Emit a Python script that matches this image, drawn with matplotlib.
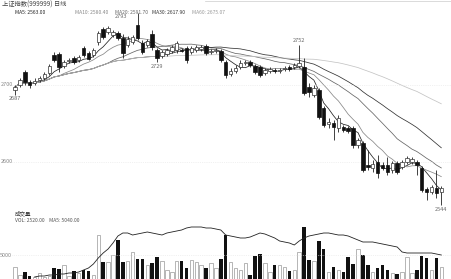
import numpy as np
import pandas as pd
import matplotlib
matplotlib.use('Agg')
import matplotlib.pyplot as plt

plt.rcParams['font.family'] = ['Noto Sans CJK SC', 'DejaVu Sans']

# daily candles
opens = [2693, 2700, 2716, 2703, 2702, 2706, 2709, 2715, 2739, 2740,
         2724, 2731, 2735, 2732, 2748, 2741, 2739, 2755, 2772, 2768,
         2765, 2767, 2761, 2752, 2755, 2778, 2754, 2752, 2766, 2745,
         2737, 2740, 2744, 2745, 2745, 2748, 2742, 2745, 2746, 2750,
         2742, 2744, 2744, 2729, 2714, 2718, 2723, 2728, 2729, 2724,
         2723, 2715, 2718, 2719, 2718, 2720, 2723, 2723, 2724, 2723,
         2697, 2687, 2693, 2670, 2649, 2650, 2644, 2645, 2644, 2644,
         2622, 2624, 2596, 2592, 2599, 2596, 2596, 2589, 2598, 2593,
         2599, 2599, 2599, 2592, 2564, 2560, 2566, 2560]
closes = [2697, 2706, 2703, 2700, 2705, 2709, 2714, 2724, 2732, 2723,
          2729, 2732, 2729, 2736, 2739, 2733, 2745, 2767, 2762, 2774,
          2768, 2761, 2741, 2759, 2762, 2761, 2742, 2757, 2749, 2735,
          2742, 2745, 2749, 2754, 2744, 2732, 2748, 2749, 2749, 2741,
          2744, 2745, 2732, 2713, 2718, 2722, 2728, 2729, 2726, 2716,
          2713, 2719, 2720, 2718, 2719, 2722, 2720, 2726, 2728, 2689,
          2690, 2696, 2658, 2648, 2651, 2645, 2657, 2641, 2640, 2622,
          2628, 2589, 2593, 2597, 2585, 2592, 2586, 2598, 2586, 2599,
          2605, 2603, 2596, 2563, 2560, 2567, 2559, 2566]
highs = [2700, 2709, 2719, 2706, 2709, 2711, 2716, 2727, 2742, 2742,
         2732, 2735, 2737, 2739, 2750, 2744, 2748, 2770, 2775, 2776,
         2771, 2770, 2766, 2763, 2765, 2793, 2758, 2759, 2771, 2748,
         2745, 2748, 2752, 2757, 2748, 2750, 2750, 2752, 2752, 2753,
         2746, 2748, 2746, 2732, 2722, 2726, 2732, 2732, 2732, 2727,
         2726, 2722, 2723, 2722, 2722, 2724, 2726, 2728, 2752, 2735,
         2702, 2700, 2696, 2672, 2657, 2654, 2661, 2648, 2646, 2646,
         2631, 2627, 2615, 2602, 2609, 2599, 2606, 2601, 2601, 2602,
         2607, 2606, 2602, 2594, 2567, 2570, 2589, 2568]
lows = [2687, 2697, 2700, 2696, 2700, 2703, 2706, 2713, 2729, 2716,
        2722, 2728, 2727, 2729, 2736, 2732, 2736, 2752, 2759, 2766,
        2762, 2758, 2735, 2749, 2753, 2758, 2740, 2749, 2745, 2729,
        2735, 2737, 2741, 2741, 2742, 2728, 2740, 2742, 2744, 2739,
        2740, 2741, 2729, 2709, 2711, 2715, 2720, 2726, 2723, 2714,
        2710, 2713, 2715, 2715, 2715, 2718, 2718, 2720, 2722, 2687,
        2684, 2684, 2655, 2645, 2644, 2628, 2638, 2638, 2637, 2618,
        2618, 2586, 2589, 2586, 2579, 2589, 2583, 2585, 2584, 2590,
        2597, 2597, 2583, 2560, 2550, 2558, 2553, 2544]
volumes = [2520, 840, 1470, 630, 420, 1260, 420, 630, 2310, 2100,
           2940, 630, 1680, 1260, 1890, 1680, 840, 9240, 3570, 3570,
           5040, 8190, 3570, 3780, 5670, 4200, 4200, 2940, 3360, 4620,
           3780, 1890, 1470, 3780, 3780, 2310, 3990, 3570, 2940, 2310,
           3360, 2310, 4200, 9240, 3570, 2310, 1890, 3360, 840, 4830,
           5250, 3360, 1470, 2940, 2940, 2520, 1680, 1890, 5670, 10920,
           3990, 3780, 7980, 6300, 1470, 2520, 1890, 1470, 4620, 3150,
           6300, 5040, 2940, 1470, 2310, 2940, 1890, 1260, 1050, 1470,
           4620, 1260, 1890, 4830, 4410, 1890, 4410, 2520]
vol_line = [np.nan, np.nan, np.nan, np.nan, 420, 630, 630, 840, 840, 1050,
            1050, 1260, 1260, 1470, 1890, 2310, 3150, 4410, 5460, 6300,
            7560, 9030, 9660, 9660, 9240, 9450, 9660, 9870, 9660, 9450,
            9240, 9660, 9870, 10080, 10290, 10710, 10920, 10920, 10920, 10710,
            10710, 10500, 10290, 9240, 9030, 8820, 8610, 8610, 8820, 9240,
            9660, 9450, 9030, 8610, 7980, 7770, 7560, 7140, 7980, 8610,
            9030, 9240, 9450, 9660, 9660, 9450, 9240, 9240, 9030, 8610,
            8190, 7770, 7770, 7770, 7560, 7350, 7140, 6930, 6720, 5670,
            5460, 5460, 5460, 5460, 5460, 5460, 5250, 5040]

ma_periods = [5, 10, 20, 30, 60]
ma_colors = ['#222222', '#888888', '#666666', '#333333', '#c4c4c4']

df = pd.DataFrame({'open': opens, 'close': closes, 'high': highs,
                   'low': lows, 'vol': volumes})
for n in ma_periods:
    df['ma%d' % n] = df['close'].rolling(n, min_periods=1).mean()
x = np.arange(len(df))
up = df['close'] >= df['open']

W, H = 451, 279
fig = plt.figure(figsize=(W / 100, H / 100), dpi=100)
ax = fig.add_axes([0, 1 - 215 / H, 1, 215 / H])
vax = fig.add_axes([0, 0, 1, 74 / H])
for a in (ax, vax):
    a.set_xlim(-15 / 4.9, (W - 15) / 4.9)
    a.set_axis_off()
    a.patch.set_alpha(0)
ax.set_ylim(2530.5, 2810)
vax.set_ylim(0, 15540)

# faint grid lines with their labels
for lv in [2700, 2600]:
    ax.axhline(lv, xmin=12 / W, color='#e4e4e4', lw=0.5, ls=':')
    ax.text(-3.0, lv, str(lv), fontsize=4, color='#888888', va='center')
vax.axhline(5000, xmin=12 / W, color='#e4e4e4', lw=0.5, ls=':')
vax.text(-3.0, 5000, '5000', fontsize=4, color='#888888', va='center')

# moving averages under the candles
for n, col in zip(ma_periods, ma_colors):
    ax.plot(x, df['ma%d' % n], color=col, lw=0.55, zorder=1)

# candles
ax.vlines(x, df['low'], df['high'], color='#222222', lw=0.6, zorder=2)
body = (df['close'] - df['open']).abs().clip(lower=0.8)
bottom = df[['open', 'close']].min(axis=1)
ax.bar(x[~up], body[~up], bottom=bottom[~up], width=0.7,
       color='#111111', edgecolor='#111111', lw=0.5, zorder=3)
ax.bar(x[up], body[up], bottom=bottom[up], width=0.7,
       color='white', edgecolor='#333333', lw=0.5, zorder=3)

# extreme labels
lab = dict(fontsize=4, color='#666666')
i = int(df['high'].idxmax())
ax.text(i - 2, df['high'][i] - 4, '%d' % df['high'][i], ha='right', va='center', **lab)
ax.text(29, df['low'][29] - 2, '%d' % df['low'][29], ha='center', va='top', **lab)
ax.text(58, df['high'][58] + 2, '%d' % df['high'][58], ha='center', va='bottom', **lab)
j = len(df) - 1
ax.text(j, df['low'][j] - 3, '%d' % df['low'][j], ha='center', va='top',
        clip_on=False, **lab)
ax.text(0, df['low'][0] - 2, '%d' % df['low'][0], ha='center', va='top', **lab)

# volume
vax.bar(x[~up], df['vol'][~up], width=0.7, color='#111111', lw=0)
vax.bar(x[up], df['vol'][up], width=0.7, color='white',
        edgecolor='#999999', lw=0.5)
vax.plot(x, vol_line, color='#222222', lw=0.6)

# header texts
fig.text(2 / W, 1 - 5 / H, '上证指数(999999) 日线', fontsize=4.5,
         color='#444444', va='center')
xs = [15, 75, 115, 152, 192]
for n, col, px in zip(ma_periods, ma_colors, xs):
    fig.text(px / W, 1 - 12 / H, 'MA%d: %.2f' % (n, df['ma%d' % n].iloc[-1]),
             fontsize=3.6, color=col if col != '#c4c4c4' else '#999999',
             va='center')
fig.text(15 / W, 1 - 213 / H, '成交量', fontsize=4, color='#333333', va='center')
fig.text(15 / W, 1 - 220 / H, 'VOL: %.2f    MA5: %.2f' % (volumes[-1], vol_line[-1]),
         fontsize=3.6, color='#555555', va='center')
fig.add_artist(plt.Line2D([205 / W, 1], [1 - 1 / H, 1 - 1 / H],
                          color='#cccccc', lw=0.5))

fig.savefig('out.png', dpi=100)
